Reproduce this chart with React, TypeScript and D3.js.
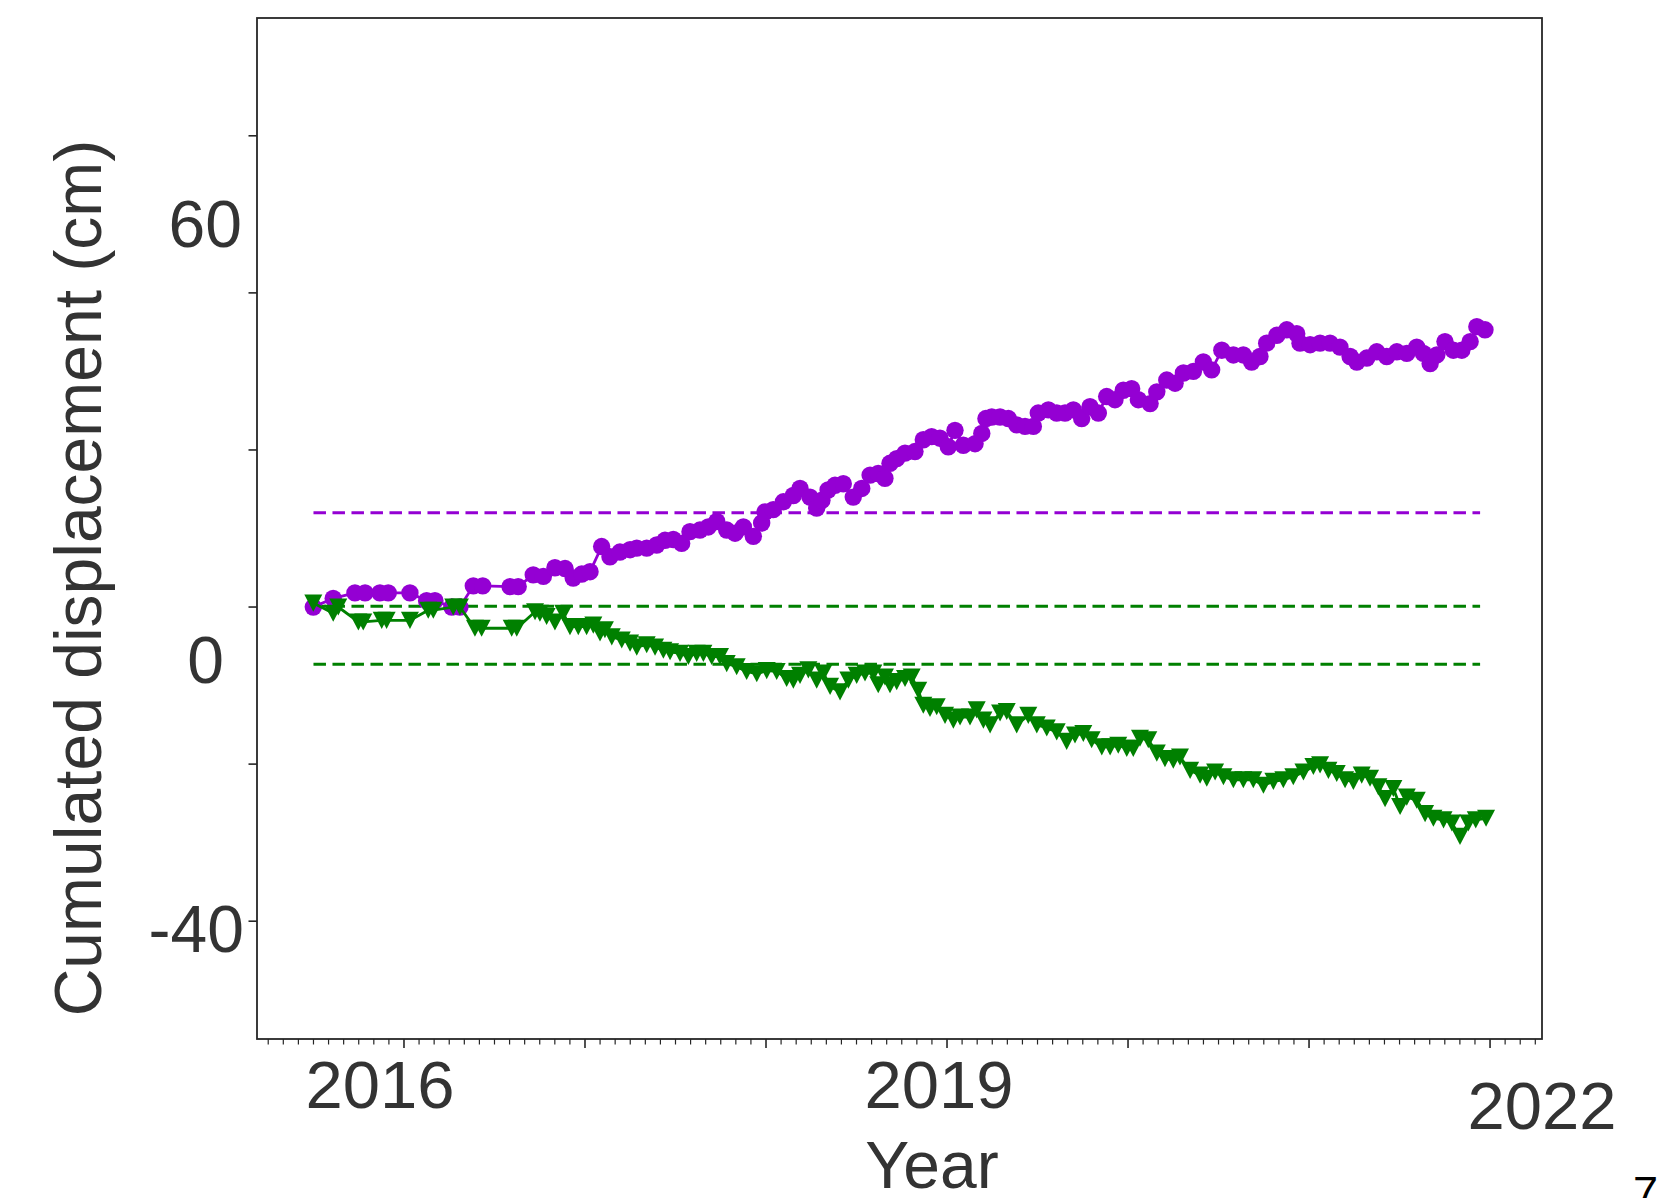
import React from "react";
import * as d3 from "d3";

// ---- data (decimal year, cumulated displacement in cm) ----
const purpleSeries: [number, number][] = [
  [2015.499, 0.0], [2015.609, 1.1], [2015.729, 1.8], [2015.785, 1.8], [2015.867, 1.8], [2015.913, 1.8],
  [2016.033, 1.8], [2016.125, 0.8], [2016.171, 0.8], [2016.264, 0.0], [2016.309, 0.0], [2016.383, 2.7],
  [2016.435, 2.7], [2016.586, 2.6], [2016.631, 2.6], [2016.714, 4.1], [2016.770, 3.9], [2016.834, 5.0],
  [2016.890, 4.9], [2016.935, 3.7], [2016.982, 4.2], [2017.028, 4.5], [2017.092, 7.7], [2017.138, 6.4],
  [2017.193, 7.0], [2017.249, 7.3], [2017.286, 7.5], [2017.341, 7.5], [2017.396, 7.9], [2017.442, 8.5],
  [2017.488, 8.6], [2017.534, 8.1], [2017.580, 9.6], [2017.635, 9.8], [2017.681, 10.2], [2017.728, 10.9],
  [2017.783, 9.8], [2017.829, 9.4], [2017.875, 10.2], [2017.930, 9.0], [2017.976, 10.7], [2017.995, 12.1],
  [2018.040, 12.4], [2018.096, 13.4], [2018.151, 14.2], [2018.188, 15.1], [2018.243, 14.0], [2018.280, 12.6],
  [2018.309, 13.6], [2018.343, 14.9], [2018.381, 15.5], [2018.427, 15.7], [2018.482, 14.0], [2018.529, 15.1],
  [2018.575, 16.8], [2018.620, 17.0], [2018.657, 16.4], [2018.685, 18.3], [2018.722, 18.9], [2018.768, 19.6],
  [2018.823, 19.8], [2018.869, 21.3], [2018.915, 21.7], [2018.961, 21.5], [2019.007, 20.4], [2019.044, 22.5],
  [2019.090, 20.6], [2019.155, 20.8], [2019.192, 22.1], [2019.215, 24.0], [2019.247, 24.2], [2019.293, 24.2],
  [2019.339, 24.0], [2019.385, 23.2], [2019.431, 23.0], [2019.477, 23.0], [2019.504, 24.7], [2019.560, 25.1],
  [2019.606, 24.7], [2019.652, 24.7], [2019.698, 25.1], [2019.744, 24.0], [2019.790, 25.5], [2019.836, 24.7],
  [2019.882, 26.8], [2019.928, 26.4], [2019.974, 27.6], [2020.020, 27.8], [2020.057, 26.4], [2020.122, 25.9],
  [2020.159, 27.4], [2020.214, 28.9], [2020.260, 28.5], [2020.306, 29.8], [2020.361, 30.0], [2020.416, 31.2],
  [2020.462, 30.2], [2020.518, 32.7], [2020.582, 32.1], [2020.637, 32.1], [2020.683, 31.2], [2020.729, 31.9],
  [2020.766, 33.6], [2020.822, 34.6], [2020.877, 35.3], [2020.932, 34.8], [2020.950, 33.6], [2021.006, 33.4],
  [2021.061, 33.6], [2021.116, 33.6], [2021.171, 33.1], [2021.227, 31.9], [2021.264, 31.2], [2021.319, 31.7],
  [2021.374, 32.5], [2021.429, 31.9], [2021.485, 32.5], [2021.540, 32.3], [2021.595, 33.1], [2021.632, 32.3],
  [2021.669, 31.0], [2021.706, 32.1], [2021.751, 33.8], [2021.797, 32.7], [2021.844, 32.7], [2021.890, 33.8],
  [2021.927, 35.7], [2021.972, 35.3],
];

const greenSeries: [number, number][] = [
  [2015.499, 0.5], [2015.609, -0.8], [2015.637, 0.0], [2015.748, -1.9], [2015.775, -1.9], [2015.877, -1.7],
  [2015.904, -1.7], [2016.033, -1.7], [2016.134, -0.4], [2016.162, -0.4], [2016.272, 0.0], [2016.309, 0.0],
  [2016.392, -2.7], [2016.429, -2.7], [2016.595, -2.7], [2016.623, -2.7], [2016.724, -0.6], [2016.751, -0.8],
  [2016.788, -1.2], [2016.834, -1.9], [2016.880, -0.8], [2016.917, -2.5], [2016.963, -2.5], [2017.009, -2.5],
  [2017.046, -2.3], [2017.083, -3.3], [2017.110, -2.9], [2017.148, -3.8], [2017.203, -4.2], [2017.249, -4.6],
  [2017.286, -5.1], [2017.341, -4.8], [2017.387, -5.1], [2017.433, -5.5], [2017.470, -5.7], [2017.525, -5.9],
  [2017.571, -6.3], [2017.617, -5.9], [2017.654, -5.9], [2017.700, -6.3], [2017.746, -6.3], [2017.783, -7.2],
  [2017.838, -7.6], [2017.893, -8.2], [2017.949, -8.5], [2018.004, -8.1], [2018.059, -8.2], [2018.114, -9.1],
  [2018.151, -9.3], [2018.188, -8.7], [2018.234, -8.0], [2018.280, -9.3], [2018.317, -8.4], [2018.354, -10.1],
  [2018.409, -10.8], [2018.455, -9.3], [2018.501, -8.7], [2018.547, -8.4], [2018.593, -8.4], [2018.620, -9.9],
  [2018.657, -8.9], [2018.685, -9.9], [2018.722, -9.5], [2018.768, -9.1], [2018.805, -8.9], [2018.841, -10.6],
  [2018.869, -12.5], [2018.906, -12.9], [2018.943, -12.7], [2018.989, -13.8], [2019.035, -14.4], [2019.072, -14.0],
  [2019.127, -14.0], [2019.164, -13.1], [2019.201, -14.4], [2019.238, -15.0], [2019.293, -13.5], [2019.330, -13.3],
  [2019.385, -15.0], [2019.449, -13.8], [2019.496, -15.0], [2019.551, -15.4], [2019.606, -15.9], [2019.661, -17.1],
  [2019.707, -16.3], [2019.753, -16.1], [2019.799, -16.9], [2019.855, -17.8], [2019.901, -17.8], [2019.946, -17.6],
  [2019.993, -18.0], [2020.029, -18.0], [2020.066, -16.7], [2020.112, -16.9], [2020.159, -18.6], [2020.204, -19.3],
  [2020.250, -19.5], [2020.287, -19.1], [2020.343, -20.8], [2020.398, -21.4], [2020.435, -21.8], [2020.481, -21.0],
  [2020.527, -21.6], [2020.582, -22.0], [2020.637, -22.0], [2020.692, -22.0], [2020.748, -22.7], [2020.803, -22.2],
  [2020.858, -22.0], [2020.913, -21.6], [2020.969, -21.0], [2021.024, -20.3], [2021.061, -20.1], [2021.107, -20.8],
  [2021.153, -21.2], [2021.199, -22.0], [2021.245, -22.2], [2021.291, -21.4], [2021.337, -21.8], [2021.383, -22.9],
  [2021.420, -24.4], [2021.466, -23.1], [2021.503, -25.4], [2021.540, -24.2], [2021.595, -24.6], [2021.641, -26.3],
  [2021.687, -26.9], [2021.743, -27.1], [2021.789, -27.5], [2021.834, -29.2], [2021.880, -27.5], [2021.921, -27.1],
  [2021.978, -26.9],
];

const purpleThresholds = [12.0];
const greenThresholds = [0.1, -7.3];
const thresholdSpan = [2015.5, 2021.945];

const xDomain = [2015.188, 2022.287];
const yDomain = [-55, 75];
const yTickValues = [-40, -20, 0, 20, 40, 60];

const xLabelYears = [2016, 2019, 2022];
const xLabelTexts = ["2016", "2019", "2022"];
const yLabelValues = [60, 0, -40];
const yLabelTexts = ["60", "0", "-40"];

// ---- layout / style ----
const W = 1661;
const H = 1198;
const frame = { left: 257, right: 1542, top: 18, bottom: 1039 };
const xLabelOffsets = [
  { dx: -24, y: 1108 },
  { dx: -8, y: 1108 },
  { dx: 52, y: 1129 },
];
const yLabelOffsets = [
  { x: 242, dy: 111.5 },
  { x: 224, dy: 75.5 },
  { x: 244, dy: 31 },
];
const PURPLE = "#9400D3";
const GREEN = "#008000";
const TEXT = "#333333";
const FONT = "'Liberation Sans', Arial, Helvetica, sans-serif";

export default function App() {
  const x = d3.scaleLinear().domain(xDomain).range([frame.left, frame.right]);
  const y = d3.scaleLinear().domain(yDomain).range([frame.bottom, frame.top]);
  const line = d3
    .line<[number, number]>()
    .x((d) => x(d[0]))
    .y((d) => y(d[1]));

  const monthTicks = d3
    .range(Math.ceil(xDomain[0] * 12), Math.floor(xDomain[1] * 12) + 1)
    .map((m) => ({ v: m / 12, major: m % 12 === 0 }));

  const tri = (cx: number, cy: number, s = 9) =>
    `M${cx - s},${cy - s * 0.95}L${cx + s},${cy - s * 0.95}L${cx},${cy + s * 0.95}Z`;

  return (
    <div style={{ position: "fixed", left: 0, top: 0, width: W, height: H, background: "#fff" }}>
      <svg width={W} height={H} viewBox={`0 0 ${W} ${H}`} style={{ display: "block" }}>
        <rect x={0} y={0} width={W} height={H} fill="#fff" />

        {/* threshold dashed lines */}
        {purpleThresholds.map((v, i) => (
          <line
            key={"pt" + i}
            x1={x(thresholdSpan[0])}
            x2={x(thresholdSpan[1])}
            y1={y(v)}
            y2={y(v)}
            stroke={PURPLE}
            strokeWidth={3}
            strokeDasharray="12.5 6.5"
          />
        ))}
        {greenThresholds.map((v, i) => (
          <line
            key={"gt" + i}
            x1={x(thresholdSpan[0])}
            x2={x(thresholdSpan[1])}
            y1={y(v)}
            y2={y(v)}
            stroke={GREEN}
            strokeWidth={3}
            strokeDasharray="12.5 6.5"
          />
        ))}

        {/* purple series */}
        <path d={line(purpleSeries) || ""} fill="none" stroke={PURPLE} strokeWidth={2.8} />
        {purpleSeries.map((d, i) => (
          <circle key={"pc" + i} cx={x(d[0])} cy={y(d[1])} r={8.7} fill={PURPLE} />
        ))}

        {/* green series */}
        <path d={line(greenSeries) || ""} fill="none" stroke={GREEN} strokeWidth={2.8} />
        {greenSeries.map((d, i) => (
          <path key={"gm" + i} d={tri(x(d[0]), y(d[1]))} fill={GREEN} />
        ))}

        {/* frame */}
        <rect
          x={frame.left}
          y={frame.top}
          width={frame.right - frame.left}
          height={frame.bottom - frame.top}
          fill="none"
          stroke="#262626"
          strokeWidth={1.8}
        />

        {/* x ticks */}
        {monthTicks.map((t, i) => (
          <line
            key={"xt" + i}
            x1={x(t.v)}
            x2={x(t.v)}
            y1={frame.bottom}
            y2={frame.bottom + (t.major ? 9 : 5.5)}
            stroke="#262626"
            strokeWidth={t.major ? 1.6 : 1.2}
          />
        ))}

        {/* y ticks */}
        {yTickValues.map((v, i) => (
          <line
            key={"yt" + i}
            x1={frame.left}
            x2={frame.left - 8.5}
            y1={y(v)}
            y2={y(v)}
            stroke="#262626"
            strokeWidth={1.6}
          />
        ))}

        {/* x tick labels */}
        {xLabelYears.map((yr, i) => (
          <text
            key={"xl" + i}
            x={x(yr) + xLabelOffsets[i].dx}
            y={xLabelOffsets[i].y}
            textAnchor="middle"
            fontFamily={FONT}
            fontSize={67}
            fill={TEXT}
          >
            {xLabelTexts[i]}
          </text>
        ))}

        {/* y tick labels */}
        {yLabelValues.map((v, i) => (
          <text
            key={"yl" + i}
            x={yLabelOffsets[i].x}
            y={y(v) + yLabelOffsets[i].dy}
            textAnchor="end"
            fontFamily={FONT}
            fontSize={66}
            fill={TEXT}
          >
            {yLabelTexts[i]}
          </text>
        ))}

        {/* axis titles */}
        <text
          x={932}
          y={1188}
          textAnchor="middle"
          fontFamily={FONT}
          fontSize={66}
          fill={TEXT}
        >
          Year
        </text>
        <text
          transform="translate(101,578) rotate(-90)"
          textAnchor="middle"
          fontFamily={FONT}
          fontSize={66}
          fill={TEXT}
        >
          Cumulated displacement (cm)
        </text>

        {/* panel number (cut by the image edge, as in the reference) */}
        <text x={1633} y={1208} fontFamily={FONT} fontSize={45} fill="#000">
          7
        </text>
      </svg>
    </div>
  );
}
